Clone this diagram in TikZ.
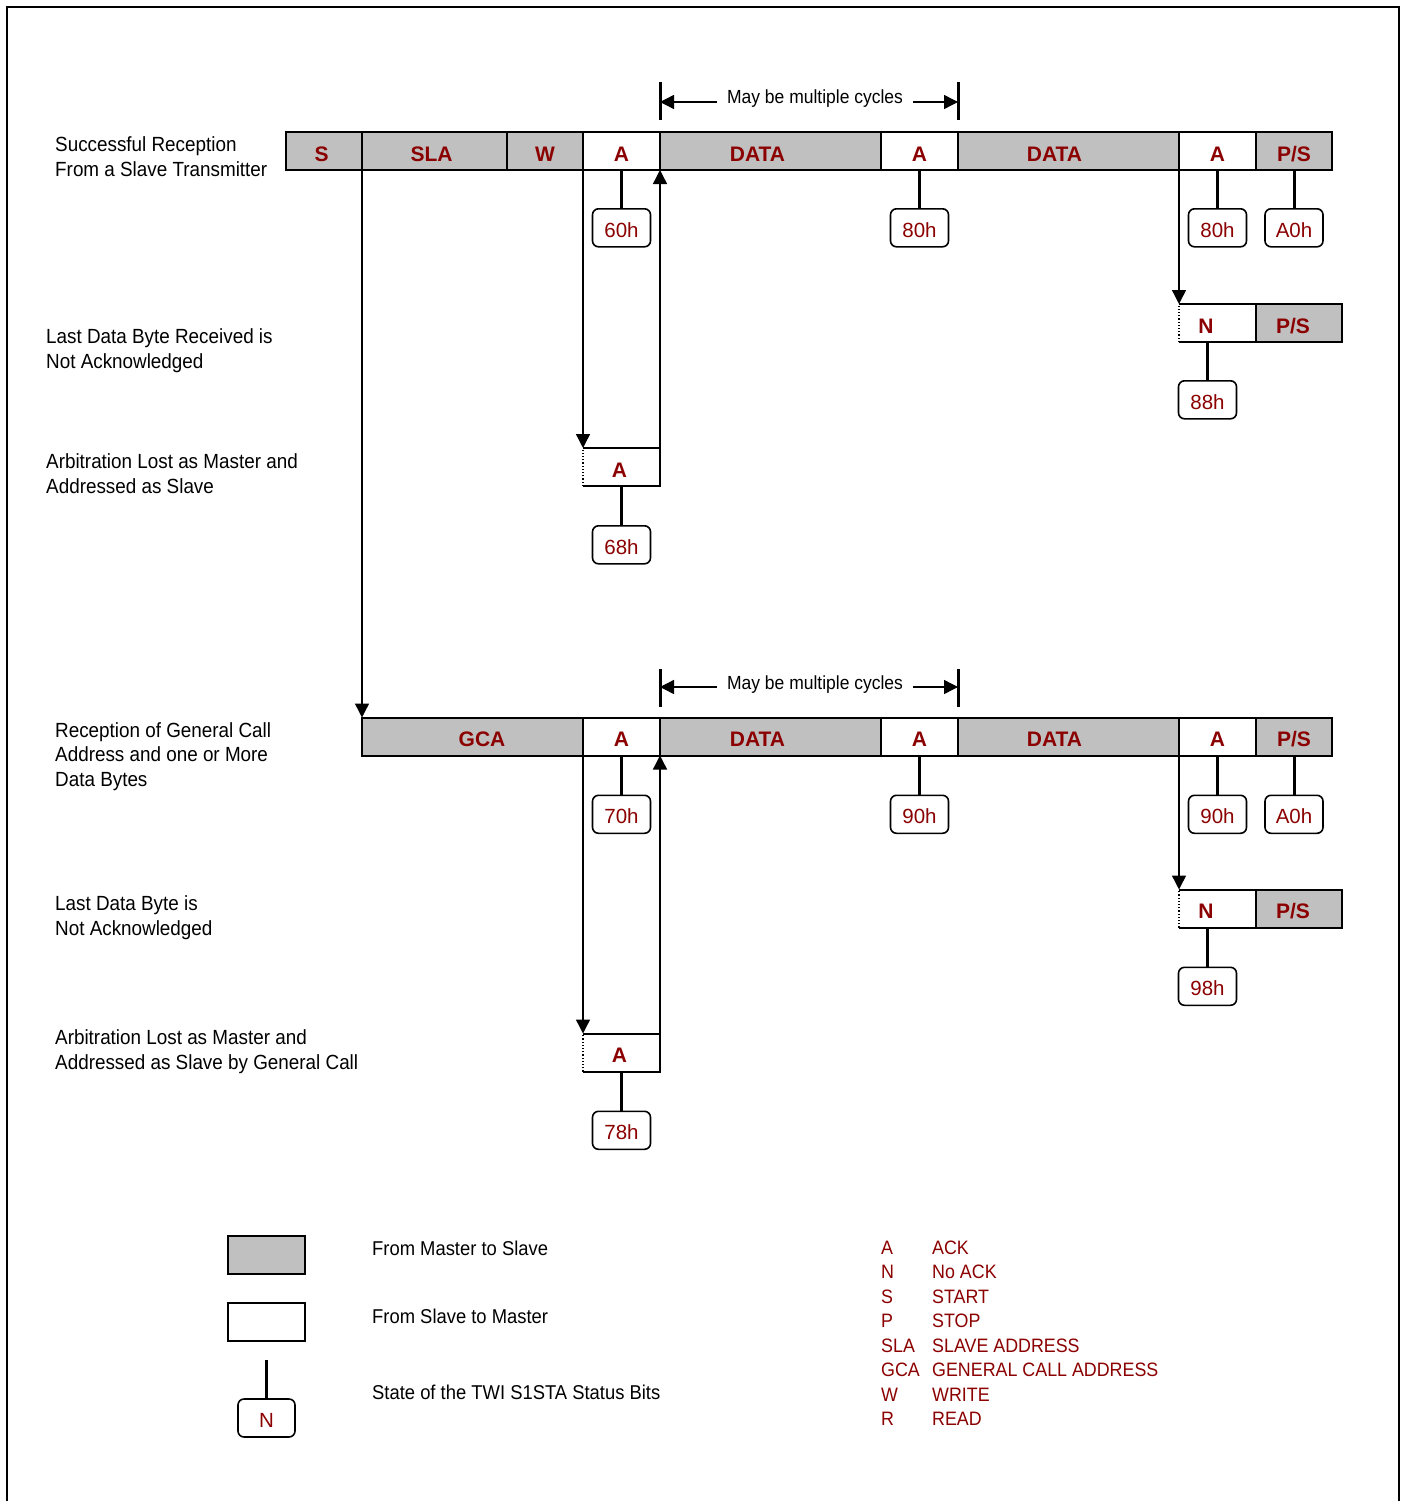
\documentclass[tikz,border=0pt]{standalone}
\usepackage{fontspec}
\setmainfont{Liberation Sans}
\newfontfamily\narrowsf{Liberation Sans}[FakeStretch=0.92]
\usetikzlibrary{positioning,arrows.meta}
\definecolor{twired}{RGB}{139,0,0}
\definecolor{twigray}{RGB}{192,192,192}
\newcommand{\lbsize}{\fontsize{20}{24.5}\selectfont}
\newcommand{\opn}[1]{\draw[edge] (#1.north west) -- (#1.north east) -- (#1.south east) -- (#1.south west);
	\draw[dotted,line width=1.2pt] (#1.south west) -- (#1.north west)}
\newcommand{\stub}[2]{\draw[stubline] (#1) -- (#2)}
\tikzset{
	field/.style={minimum height=38pt, inner sep=0pt, outer sep=0pt, text height=20pt, text depth=0pt,
		font=\bfseries\fontsize{21}{24}\selectfont, text=twired},
	mst/.style={field, draw, line width=2pt, fill=twigray},
	slv/.style={field, draw, line width=2pt, fill=white},
	opnslv/.style={field},
	edge/.style={line width=2pt},
	stat/.style={draw, line width=1.6pt, rounded corners=6pt, minimum width=58pt,
		minimum height=38pt, inner sep=0pt, text height=18.5pt, text depth=0pt,
		font=\fontsize{20.5}{24}\selectfont, text=twired},
	stubline/.style={line width=3pt},
	flow/.style={line width=1.4pt, -{Triangle[length=14pt,width=14pt]}},
	cycbar/.style={line width=3pt},
	txt/.style={font=\narrowsf\lbsize, inner sep=0pt, align=left, anchor=base west},
	rowtxt/.style={txt, font=\narrowsf\fontsize{20.5}{24.5}\selectfont},
	cyctxt/.style={font=\narrowsf\fontsize{19}{24}\selectfont, anchor=base, inner sep=10pt},
}

\begin{document}
\begin{tikzpicture}[x=1pt, y=-1pt]
\useasboundingbox (0,0) rectangle (1406,1501);
%Frame
	\draw[line width=2pt] (7,1501) -- (7,7) -- (1399,7) -- (1399,1501);
%The first bar
	\node[mst, minimum width=76pt] (s1) at (324,151) {\hspace*{-5pt}S};
	\node[mst, minimum width=145pt, right=0pt of s1] (sla1) {SLA\hspace*{6pt}};
	\node[mst, minimum width=76pt, right=0pt of sla1] (w1) {W};
	\node[slv, minimum width=77pt, right=0pt of w1] (a1) {A};
	\node[mst, minimum width=221pt, right=0pt of a1] (d1) {DATA\hspace*{26pt}};
	\node[slv, minimum width=77pt, right=0pt of d1] (a2) {A};
	\node[mst, minimum width=221pt, right=0pt of a2] (d2) {DATA\hspace*{28pt}};
	\node[slv, minimum width=77pt, right=0pt of d2] (a3) {A};
	\node[mst, minimum width=76pt, right=0pt of a3] (ps1) {P/S};
	\node[stat, below=38pt of a1] (st60) {60h};
	\node[stat, below=38pt of a2] (st80a) {80h};
	\node[stat, below=38pt of a3] (st80b) {80h};
	\node[stat, below=38pt of ps1] (sta0a) {A0h};
	\stub{a1}{st60};
	\stub{a2}{st80a};
	\stub{a3}{st80b};
	\stub{ps1}{sta0a};
%May be multiple cycles
	\draw[cycbar] ([yshift=12pt]a1.north east) -- ([yshift=50pt]a1.north east);
	\draw[cycbar] ([yshift=12pt]a2.north east) -- ([yshift=50pt]a2.north east);
	\node[cyctxt] (cyc1) at (815,104) {May be multiple cycles};
	\draw[flow] ([yshift=2pt]cyc1.base west) -- ([yshift=2pt]cyc1.base west -| a1.east);
	\draw[flow] ([yshift=2pt]cyc1.base east) -- ([yshift=2pt]cyc1.base east -| a2.east);
%Not acknowledged
	\node[opnslv, minimum width=77pt, below=134pt of a3] (n1) {N\hspace*{23pt}};
	\node[mst, minimum width=86pt, right=0pt of n1] (ps2) {P/S\hspace*{12pt}};
	\opn{n1};
	\node[stat, below=38pt of n1, xshift=-10pt] (st88) {88h};
	\draw[stubline] (st88) -- (st88 |- n1.south);
	\draw[flow] (a3.south west) -- (n1.north west);
%Arbitration lost
	\node[opnslv, minimum width=77pt, below=278pt of a1] (ab1) {A\hspace*{4pt}};
	\opn{ab1};
	\node[stat, below=39pt of ab1] (st68) {68h};
	\stub{ab1}{st68};
	\draw[flow] (w1.south east) -- (ab1.north west);
	\draw[flow] (ab1.north east) -- (a1.south east);
%The second bar
	\node[mst, minimum width=221pt] (gca) at (472.5,736.5) {\hspace*{19pt}GCA};
	\node[slv, minimum width=77pt, right=0pt of gca] (a4) {A};
	\node[mst, minimum width=221pt, right=0pt of a4] (d3) {DATA\hspace*{26pt}};
	\node[slv, minimum width=77pt, right=0pt of d3] (a5) {A};
	\node[mst, minimum width=221pt, right=0pt of a5] (d4) {DATA\hspace*{28pt}};
	\node[slv, minimum width=77pt, right=0pt of d4] (a6) {A};
	\node[mst, minimum width=76pt, right=0pt of a6] (ps3) {P/S};
	\node[stat, below=39pt of a4] (st70) {70h};
	\node[stat, below=39pt of a5] (st90a) {90h};
	\node[stat, below=39pt of a6] (st90b) {90h};
	\node[stat, below=39pt of ps3] (sta0b) {A0h};
	\stub{a4}{st70};
	\stub{a5}{st90a};
	\stub{a6}{st90b};
	\stub{ps3}{sta0b};
	\draw[flow] (s1.south east) -- (gca.north west);
%May be multiple cycles
	\draw[cycbar] ([yshift=11pt]a4.north east) -- ([yshift=49pt]a4.north east);
	\draw[cycbar] ([yshift=11pt]a5.north east) -- ([yshift=49pt]a5.north east);
	\node[cyctxt] (cyc2) at (815,689) {May be multiple cycles};
	\draw[flow] ([yshift=2pt]cyc2.base west) -- ([yshift=2pt]cyc2.base west -| a4.east);
	\draw[flow] ([yshift=2pt]cyc2.base east) -- ([yshift=2pt]cyc2.base east -| a5.east);
%Not acknowledged
	\node[opnslv, minimum width=77pt, below=134pt of a6] (n2) {N\hspace*{23pt}};
	\node[mst, minimum width=86pt, right=0pt of n2] (ps4) {P/S\hspace*{12pt}};
	\opn{n2};
	\node[stat, below=39pt of n2, xshift=-10pt] (st98) {98h};
	\draw[stubline] (st98) -- (st98 |- n2.south);
	\draw[flow] (d4.south east) -- (n2.north west);
%Arbitration lost
	\node[opnslv, minimum width=77pt, below=278pt of a4] (ab2) {A\hspace*{4pt}};
	\opn{ab2};
	\node[stat, below=39pt of ab2] (st78) {78h};
	\stub{ab2}{st78};
	\draw[flow] (gca.south east) -- (ab2.north west);
	\draw[flow] (ab2.north east) -- (a4.south east);
%Row labels (base = last line)
	\node[rowtxt] (l1) at (55,176) {Successful Reception\\From a Slave Transmitter};
	\node[rowtxt] (l2) at (46,368) {Last Data Byte Received is\\Not Acknowledged};
	\node[rowtxt] (l3) at (46,493) {Arbitration Lost as Master and\\Addressed as Slave};
	\node[rowtxt] (l4) at (55,786) {Reception of General Call\\Address and one or More\\Data Bytes};
	\node[rowtxt] (l5) at (55,935) {Last Data Byte is\\Not Acknowledged};
	\node[rowtxt] (l6) at (55,1069) {Arbitration Lost as Master and\\Addressed as Slave by General Call};
%Legend
	\node[mst, minimum width=77pt] (lgm) at (266.5,1255) {};
	\node[slv, minimum width=77pt, below=29pt of lgm] (lgs) {};
	\node[stat, minimum width=57pt] (lgn) at (266.5,1418) {N};
	\coordinate[above=38pt of lgn] (lgtop);
	\draw[stubline] (lgn) -- (lgtop);
	\node[txt] (t1) at (372,1255) {From Master to Slave};
	\node[txt] (t2) at (372,1323) {From Slave to Master};
	\node[txt] (t3) at (372,1399) {State of the TWI S1STA Status Bits};
	\node[font=\narrowsf\fontsize{19.4}{24.5}\selectfont, text=twired, inner sep=0pt, anchor=north west] (abbr) at (881,1237) {%
		\begin{tabular}{@{}p{51pt}@{}l@{}}
		A & ACK\\
		N & No ACK\\
		S & START\\
		P & STOP\\
		SLA & SLAVE ADDRESS\\
		GCA & GENERAL CALL ADDRESS\\
		W & WRITE\\
		R & READ
		\end{tabular}};
\end{tikzpicture}
\end{document}
